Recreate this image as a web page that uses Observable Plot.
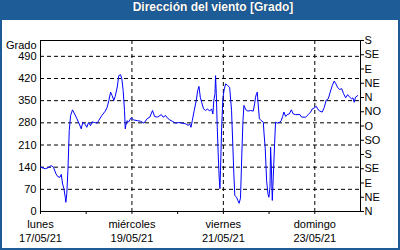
<!DOCTYPE html>
<html>
<head>
<meta charset="utf-8">
<script src="https://cdn.jsdelivr.net/npm/d3@7"></script>
<script src="https://cdn.jsdelivr.net/npm/@observablehq/plot@0.6"></script>
<style>
  html, body { margin: 0; padding: 0; background: #ffffff; }
  #card { width: 400px; height: 250px; box-sizing: border-box; background: #1e5c98; padding: 0 2px 2px 2px; }
  #title { height: 20px; line-height: 20px; color: #ffffff; font: bold 12px "Liberation Sans", Arial, sans-serif; text-align: center; padding-left: 26px; text-shadow: 0 0 1px #0b2c4e; }
  #chart { background: #ffffff; height: 228px; }
</style>
</head>
<body>
<div id="card">
  <div id="title">Dirección del viento [Grado]</div>
  <div id="chart"></div>
</div>
<script>
// Hours since 17/05/21 00:00
const hours = [
  0,2.5,3.9,5.6,6.8,8.1,9.1,10.2,10.9,11.6,12.3,13,13.3,13.8,14.4,15.1,15.8,16.8,17.9,19.1,
  20.3,21.4,22.2,23.5,24.3,25.2,26.3,27,28.4,29.8,30.5,32.2,34,
  35,35.9,36.8,37.6,38.5,39.2,40.3,41.1,42,42.7,43.4,44.1,44.5,44.8,45.5,46.2,47.6,49,50.8,52.5,
  54.3,56,57.4,58.8,59.9,61.3,62.7,63.4,64.4,65.7,66.5,67.9,
  69.2,70.9,72.7,74.4,76.2,77.6,78.3,79,79.7,80.7,81.8,82.5,83.2,83.9,84.6,85.6,86.7,87.7,88.8,89.8,
  90.5,91,91.6,91.9,92.3,92.8,93.3,93.8,94.2,94.5,95.1,95.8,96.5,97.2,98.2,99.3,100.3,101,101.5,
  102,102.9,103.6,104.3,105,105.7,106.3,106.8,107.8,108.9,110.3,111.7,112.4,112.9,113.4,113.8,114.2,114.9,115.9,117,
  117.3,118,118.7,119.4,119.9,120.5,120.8,121.2,121.7,122.2,122.9,123.4,124.3,125.7,126.4,127.1,127.8,128.7,129.5,130.6,
  131.7,132.7,133.9,136.2,
  137.1,139.2,140.6,141.8,142.7,143.7,144.8,145.5,146.5,147.9,149,150,151.1,152.1,153.2,154.2,154.9,156,157,158.1,
  159.1,160.2,161.2,162.3,163.3,164,164.7,165.4,166.5
];
const grados = [
  140,135,138,145,140,119,110,108,117,87,72,45,29,56,130,256,303,321,308,293,
  277,261,282,275,266,281,271,283,281,279,287,303,317,
  329,351,377,366,351,363,393,429,432,419,382,319,261,272,287,282,296,289,287,285,
  279,293,298,319,300,298,303,306,298,303,296,289,
  285,279,281,279,277,272,277,266,287,319,351,382,395,361,345,324,319,324,317,324,
  308,351,372,429,372,266,182,108,72,129,266,361,387,403,398,392,319,203,119,
  51,45,35,26,43,182,287,335,321,317,319,317,340,361,372,377,345,293,287,282,
  251,198,98,56,45,77,203,140,35,108,214,282,279,282,287,300,314,300,306,308,
  321,308,306,306,
  298,298,306,314,324,327,332,324,317,314,329,352,356,377,398,412,405,392,385,388,
  372,359,369,361,356,359,345,361,366
];

// Axis labels
const yTicks = [0,70,140,210,280,350,420,490];
const dirTicks = [0,45,90,135,180,225,270,315,360,405,450,495,540];
const dirLabels = ["N","NE","E","SE","S","SO","O","NO","N","NE","E","SE","S"];
const labelDays = [17,19,21,23];
const dayNames = ["lunes","miércoles","viernes","domingo"];
const dateLabels = ["17/05/21","19/05/21","21/05/21","23/05/21"];
const allDays = [17,18,19,20,21,22,23];

const start = Date.UTC(2021,4,17);
const data = hours.map((h,i)=>({t:new Date(start + h*3600e3), v:grados[i]}));
const dayDate = d => new Date(Date.UTC(2021,4,d));
const nameMap = new Map(labelDays.map((d,i)=>[+dayDate(d), dayNames[i]]));
const dateMap = new Map(labelDays.map((d,i)=>[+dayDate(d), dateLabels[i]]));
const dirMap = new Map(dirTicks.map((d,i)=>[d, dirLabels[i]]));

const chart = Plot.plot({
  width: 396,
  height: 228,
  marginLeft: 38,
  marginRight: 38,
  marginTop: 20,
  marginBottom: 37,
  style: {fontFamily: "'Liberation Sans', Arial, sans-serif", fontSize: "11px", color: "black", background: "white", overflow: "visible"},
  x: {type: "utc", domain: [dayDate(17), dayDate(24)]},
  y: {domain: [0, 540]},
  marks: [
    Plot.gridY(yTicks.filter(d=>d>0), {stroke: "black", strokeOpacity: 1, strokeDasharray: "4,3"}),
    Plot.gridX(labelDays.slice(1).map(dayDate), {stroke: "black", strokeOpacity: 1, strokeDasharray: "4,3"}),
    Plot.axisY({anchor: "left", ticks: yTicks, tickSize: 0, tickPadding: 4, label: null, fill: "black"}),
    Plot.axisY({anchor: "right", ticks: dirTicks, tickFormat: d => dirMap.get(d), tickSize: 3, tickPadding: 1, label: null, fill: "black"}),
    Plot.axisX({ticks: allDays.map(dayDate), tickSize: 3, text: null, label: null}),
    Plot.axisX({ticks: labelDays.map(dayDate), tickSize: 0, tickPadding: 9, tickFormat: d => nameMap.get(+d), label: null, fill: "black"}),
    Plot.axisX({ticks: labelDays.map(dayDate), tickSize: 0, tickPadding: 23, tickFormat: d => dateMap.get(+d), label: null, fill: "black"}),
    Plot.text(["Grado"], {frameAnchor: "top-left", dx: -4, dy: 5, textAnchor: "end", lineAnchor: "middle", fill: "black"}),
    Plot.frame({stroke: "black"}),
    Plot.line(data, {x: "t", y: "v", stroke: "#0000ff", strokeWidth: 1})
  ]
});
document.getElementById("chart").append(chart);
</script>
</body>
</html>
